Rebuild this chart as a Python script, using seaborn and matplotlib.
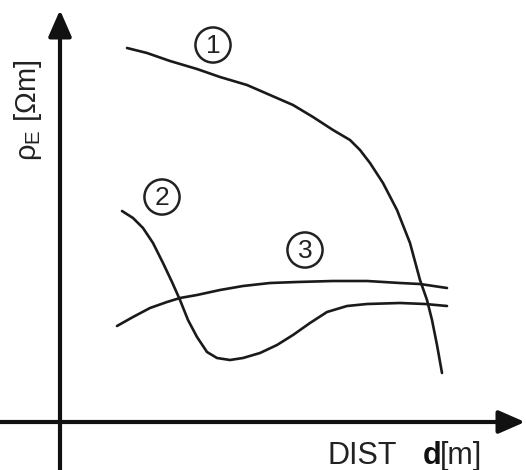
import numpy as np
import pandas as pd
import matplotlib
matplotlib.use("Agg")
import matplotlib.pyplot as plt
import seaborn as sns

# curve points (pixel-like units, y grows downward)
curve1_x = [127, 147, 170, 197, 220, 247, 270, 293, 313, 333, 350, 360, 370, 383,
            397, 410, 420, 427, 432, 437, 442]
curve1_y = [48, 53, 61, 69, 77, 85, 95, 105, 117, 130, 140, 150, 163, 183,
            210, 243, 280, 300, 320, 345, 373]

curve2_x = [122, 133, 143, 153, 163, 172, 180, 188, 197, 207, 217, 230, 243, 260,
            277, 293, 310, 327, 347, 367, 400, 425, 447]
curve2_y = [211, 218, 228, 243, 263, 282, 300, 320, 337, 352, 358, 360, 358, 353,
            345, 335, 323, 312, 306, 304, 303, 304, 306]

curve3_x = [117, 133, 150, 167, 180, 197, 220, 243, 270, 297, 333, 367, 400, 420, 447]
curve3_y = [326, 317, 308, 302, 298, 295, 290, 286, 283, 282, 281, 281, 283, 284, 288]

labels = ["1", "2", "3"]
label_x = [213, 162, 305]
label_y = [45, 197, 250]

sns.set_style("white")
plt.rcParams['font.family'] = ['Liberation Sans', 'DejaVu Sans']
plt.rcParams['mathtext.fontset'] = 'custom'
plt.rcParams['mathtext.rm'] = 'Liberation Sans'

fig = plt.figure(figsize=(5.26, 4.70), dpi=100)
ax = fig.add_axes([0, 0, 1, 1])

curves = [(curve1_x, curve1_y), (curve2_x, curve2_y), (curve3_x, curve3_y)]
for cx, cy in curves:
    df = pd.DataFrame({'x': cx, 'y': cy})
    sns.lineplot(data=df, x='x', y='y', sort=False, estimator=None,
                 color='#1a1a1a', linewidth=1.9, ax=ax,
                 solid_joinstyle='round', solid_capstyle='round')

# circled curve numbers
lab_df = pd.DataFrame({'x': label_x, 'y': label_y})
sns.scatterplot(data=lab_df, x='x', y='y', s=640, marker='o', facecolor='none',
                edgecolor='#222222', linewidth=1.8, ax=ax, zorder=3)
for t, lx, ly in zip(labels, label_x, label_y):
    ax.text(lx, ly + 1, t, ha='center', va='center', fontsize=19, color='#222222')

# axes with arrow heads
ax.annotate('', xy=(60, 10), xytext=(60, 470),
            arrowprops=dict(arrowstyle='-|>,head_length=1.6,head_width=0.7',
                            lw=3, color='#111111', shrinkA=0, shrinkB=0))
ax.annotate('', xy=(525, 422), xytext=(0, 422),
            arrowprops=dict(arrowstyle='-|>,head_length=1.6,head_width=0.7',
                            lw=3, color='#111111', shrinkA=0, shrinkB=0))

ax.text(28, 110, r'ρ$_\mathrm{E}$ [Ωm]', rotation=90, ha='center', va='center',
        fontsize=21, color='#222222')
ax.text(327, 464, 'DIST', ha='left', va='baseline', fontsize=22, color='#222222')
ax.text(423, 464, 'd', ha='left', va='baseline', fontsize=22, fontweight='bold', color='#111111')
ax.text(440, 464, '[m]', ha='left', va='baseline', fontsize=22, color='#222222')

ax.set_xlim(0, 526)
ax.set_ylim(470, 0)
ax.axis('off')

fig.savefig('out.png', dpi=100)
